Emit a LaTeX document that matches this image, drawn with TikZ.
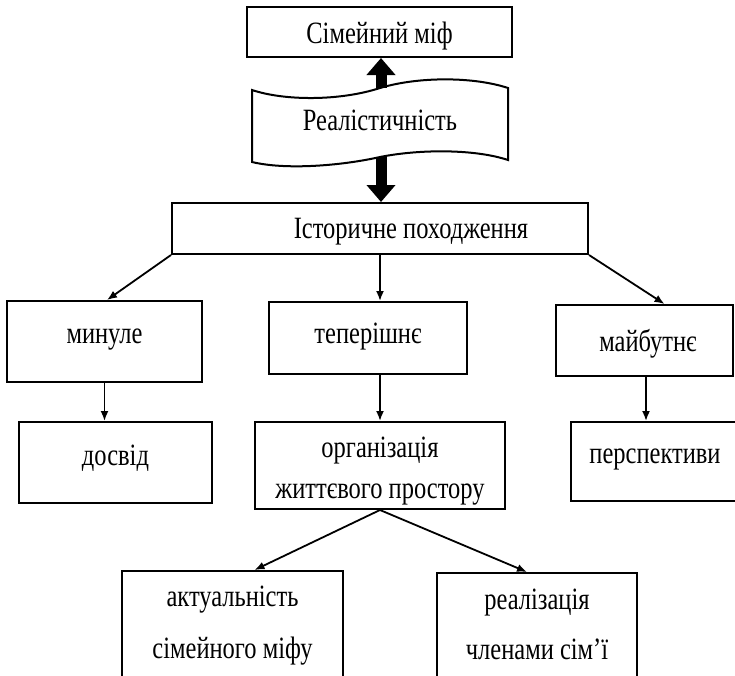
\documentclass[tikz,border=0pt]{standalone}
\usepackage{fontspec}
\setmainfont{Liberation Serif}[FakeStretch=0.79]
\usetikzlibrary{arrows.meta,positioning}
\tikzset{
  box/.style={draw, line width=2pt, inner sep=0pt, anchor=base,
              font=\fontsize{31}{36}\selectfont},
  twobox/.style={draw, line width=2pt, inner sep=0pt, align=center},
  link/.style={-{Latex[length=10pt,width=8pt]}, line width=1.8pt},
  fat/.style={-{Triangle[length=17pt,width=28pt]}, line width=11pt}
}
\begin{document}
\begin{tikzpicture}[x=1pt, y=-1pt]
\useasboundingbox (0,0) rectangle (735,675);
% top part
\node[box, minimum width=265pt, text height=36pt, text depth=14pt] (myth) at (379.5,43) {Сімейний міф};
% wavy banner
\draw[line width=2pt] (252,90) .. controls (285,101) and (340,101) .. (380,88)
  .. controls (420,76) and (475,77) .. (508,88) -- (508,160)
  .. controls (475,149) and (420,149) .. (380,157)
  .. controls (340,166) and (285,170) .. (252,162) -- cycle;
\node[font=\fontsize{31}{36}\selectfont, inner sep=0pt, anchor=base] (real) at (380,130) {Реалістичність};
\coordinate (realtop) at (381,88);
\coordinate (realbot) at (381,157);
\node[box, minimum width=416pt, text height=35pt, text depth=16pt] (hist) at (380,238) {\hspace*{62pt}Історичне походження};
\draw[fat] (realtop) -- (realtop |- myth.south);
\draw[fat] (realbot) -- (realbot |- hist.north);

% past / present / future
\node[box, minimum width=195pt, text height=42pt, text depth=39pt] (past) at (104.5,343) {минуле};
\node[box, minimum width=198pt, text height=41pt, text depth=31pt] (now) at (368,343) {теперішнє};
\node[box, minimum width=177pt, text height=46pt, text depth=25pt] (future) at (644.5,351) {\hspace*{7pt}майбутнє};
\draw[link] (hist.south west) -- ([xshift=2.5pt]past.north);
\draw[link] (hist.south) -- (hist.south |- now.north);
\draw[link] (hist.south east) -- ([xshift=20pt]future.north);

% second row
\node[box, minimum width=193pt, text height=43pt, text depth=38pt] (exp) at (115.5,465) {досвід};
\node[twobox, minimum width=250pt, minimum height=87pt, font=\fontsize{31}{41}\selectfont] (org) at (380,465.5)
  {\rule{0pt}{31pt}організація\\життєвого простору\rule[-7pt]{0pt}{7pt}};
\node[box, minimum width=168pt, text height=41pt, text depth=38pt] (persp) at (655,463) {перспективи};
\draw[link] (past.south) -- (past.south |- exp.north);
\draw[link] (org.north |- now.south) -- (org.north);
\draw[link] ([xshift=1.5pt]future.south) -- ([xshift=1.5pt]future.south |- persp.north);

% bottom row
\node[twobox, minimum width=221pt, minimum height=124pt, font=\fontsize{31}{52}\selectfont] (actual) at (232.5,633)
  {\rule{0pt}{23pt}актуальність\\сімейного міфу\rule[-25pt]{0pt}{25pt}};
\node[twobox, minimum width=200pt, minimum height=122pt, font=\fontsize{31}{50}\selectfont] (realiz) at (537,634)
  {\rule{0pt}{23pt}реалізація\\членами сім’ї\rule[-23pt]{0pt}{23pt}};
\draw[link] (org.south) -- ([xshift=22pt]actual.north);
\draw[link] (org.south) -- ([xshift=-10pt]realiz.north);
\end{tikzpicture}
\end{document}
